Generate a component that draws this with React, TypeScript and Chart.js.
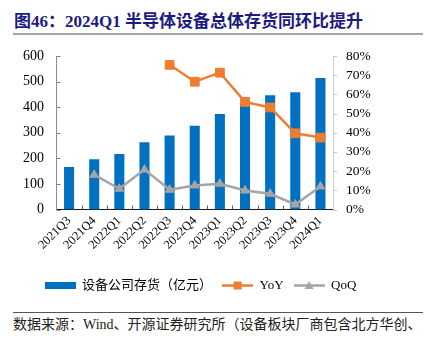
import React, { useEffect, useRef } from "react";
import { Chart, registerables } from "chart.js";

Chart.register(...registerables);

const categories = ["2021Q3", "2021Q4", "2022Q1", "2022Q2", "2022Q3", "2022Q4", "2023Q1", "2023Q2", "2023Q3", "2023Q4", "2024Q1"];
const inventory = [166, 196, 217, 263, 289, 327, 373, 414, 447, 458, 514];
const yoy = [null, null, null, null, 75.4, 66.6, 71.3, 56.1, 53.2, 39.7, 37.5];
const qoq = [null, 18.1, 10.8, 20.8, 10.3, 12.5, 13.4, 9.9, 8.2, 2.6, 12.0];
const leftTicks = [0, 100, 200, 300, 400, 500, 600];
const rightTicks = [0, 10, 20, 30, 40, 50, 60, 70, 80];

const BLUE = "#0070C0";
const ORANGE = "#ED7D31";
const GRAY = "#A5A5A5";
const SERIF = "'Liberation Serif', 'Times New Roman', serif";
const MIXED = "'Liberation Serif', 'Noto Sans CJK SC', serif";

function makeBoxIcon(): HTMLCanvasElement {
  const c = document.createElement("canvas");
  c.width = 31;
  c.height = 7;
  const g = c.getContext("2d")!;
  g.fillStyle = BLUE;
  g.fillRect(0, 0, 31, 7);
  return c;
}

function makeLineIcon(color: string, marker: "rect" | "tri"): HTMLCanvasElement {
  const c = document.createElement("canvas");
  c.width = 31;
  c.height = 13;
  const g = c.getContext("2d")!;
  g.strokeStyle = color;
  g.lineWidth = 2.5;
  g.beginPath();
  g.moveTo(0, 6.5);
  g.lineTo(31, 6.5);
  g.stroke();
  g.fillStyle = color;
  if (marker === "rect") {
    g.fillRect(11.5, 2.5, 8, 8);
  } else {
    g.beginPath();
    g.moveTo(15.5, 2);
    g.lineTo(20, 10);
    g.lineTo(11, 10);
    g.closePath();
    g.fill();
  }
  return c;
}

const tickPlugin = {
  id: "customTicks",
  afterDatasetsDraw(chart: any) {
    const { ctx, chartArea } = chart;
    const { left, right, bottom } = chartArea;
    const y = chart.scales.y;
    const y1 = chart.scales.y1;
    const x = chart.scales.x;
    ctx.save();
    ctx.lineWidth = 1;
    ctx.strokeStyle = "#808080";
    leftTicks.forEach((v) => {
      const py = Math.round(y.getPixelForValue(v)) + 0.5;
      ctx.beginPath();
      ctx.moveTo(left, py);
      ctx.lineTo(left + 4, py);
      ctx.stroke();
    });
    ctx.strokeStyle = "#c8c8c8";
    rightTicks.forEach((v) => {
      const py = Math.round(y1.getPixelForValue(v)) + 0.5;
      ctx.beginPath();
      ctx.moveTo(right, py);
      ctx.lineTo(right + 4, py);
      ctx.stroke();
    });
    ctx.strokeStyle = "#595959";
    for (let i = 1; i < categories.length; i++) {
      const px = Math.round((x.getPixelForValue(i - 1) + x.getPixelForValue(i)) / 2) + 0.5;
      ctx.beginPath();
      ctx.moveTo(px, bottom);
      ctx.lineTo(px, bottom - 4);
      ctx.stroke();
    }
    ctx.restore();
  },
};

export default function App() {
  const ref = useRef<HTMLCanvasElement | null>(null);

  useEffect(() => {
    document.body.style.margin = "0";
    const boxIcon = makeBoxIcon();
    const yoyIcon = makeLineIcon(ORANGE, "rect");
    const qoqIcon = makeLineIcon(GRAY, "tri");
    const chart = new Chart(ref.current!, {
      type: "bar",
      data: {
        labels: categories,
        datasets: [
          {
            type: "bar",
            label: "设备公司存货（亿元）",
            data: inventory,
            backgroundColor: BLUE,
            yAxisID: "y",
            barPercentage: 0.4,
            categoryPercentage: 1,
            order: 2,
          },
          {
            type: "line",
            label: "YoY",
            data: yoy as any,
            borderColor: ORANGE,
            backgroundColor: ORANGE,
            borderWidth: 2.5,
            pointStyle: "rect",
            pointRadius: 6.2,
            pointBorderWidth: 1,
            pointBackgroundColor: ORANGE,
            pointBorderColor: ORANGE,
            yAxisID: "y1",
            order: 1,
          },
          {
            type: "line",
            label: "QoQ",
            data: qoq as any,
            borderColor: GRAY,
            backgroundColor: GRAY,
            borderWidth: 2.5,
            pointStyle: "triangle",
            pointRadius: 5,
            pointBorderWidth: 1,
            pointBackgroundColor: GRAY,
            pointBorderColor: GRAY,
            yAxisID: "y1",
            order: 1,
          },
        ],
      },
      options: {
        animation: false,
        responsive: false,
        maintainAspectRatio: false,
        layout: { padding: { top: 56, left: 0, right: 30, bottom: 0 } },
        plugins: {
          tooltip: { enabled: false },
          legend: {
            position: "bottom",
            labels: {
              usePointStyle: true,
              pointStyleWidth: 31,
              padding: 10,
              color: "#000",
              font: { family: MIXED, size: 13 },
              generateLabels: (ch: any) => {
                const icons = [boxIcon, yoyIcon, qoqIcon];
                return ch.data.datasets.map((ds: any, i: number) => ({
                  text: ds.label,
                  fillStyle: "transparent",
                  strokeStyle: "transparent",
                  lineWidth: 0,
                  pointStyle: icons[i],
                  hidden: false,
                  datasetIndex: i,
                  fontColor: "#000",
                }));
              },
            },
          },
        },
        scales: {
          x: {
            grid: { display: false, drawTicks: false },
            border: { display: true, color: "#1a1a1a", width: 1 },
            ticks: {
              autoSkip: false,
              minRotation: 45,
              maxRotation: 45,
              padding: 4,
              color: "#000",
              font: { family: SERIF, size: 12.5 },
            },
            afterFit: (s: any) => {
              s.height = 59.5;
            },
          },
          y: {
            position: "left",
            min: 0,
            max: 600,
            grid: { display: false, drawTicks: false },
            border: { display: true, color: "#8c8c8c", width: 1 },
            ticks: {
              stepSize: 100,
              autoSkip: false,
              padding: 12.5,
              color: "#000",
              font: { family: SERIF, size: 14 },
            },
            afterFit: (s: any) => {
              s.width = 56.5;
            },
          },
          y1: {
            position: "right",
            min: 0,
            max: 80,
            grid: { display: false, drawTicks: false },
            border: { display: true, color: "#d0d0d0", width: 1 },
            ticks: {
              stepSize: 10,
              autoSkip: false,
              padding: 13,
              color: "#000",
              font: { family: SERIF, size: 13.5 },
              callback: (v: any) => v + "%",
            },
            afterFit: (s: any) => {
              s.width = 68;
            },
          },
        },
      },
      plugins: [tickPlugin],
    });
    return () => chart.destroy();
  }, []);

  return (
    <div style={{ position: "relative", width: 431, height: 343, background: "#fff", overflow: "hidden" }}>
      <div
        style={{
          position: "absolute",
          left: 14,
          top: 12,
          fontFamily: MIXED,
          fontWeight: "bold",
          fontSize: 17,
          lineHeight: "20px",
          color: "#1c1c80",
          whiteSpace: "nowrap",
        }}
      >
        图46：2024Q1 半导体设备总体存货同环比提升
      </div>
      <div style={{ position: "absolute", left: 13, top: 33, width: 410, height: 2, background: "#a6a6a6" }} />
      <canvas ref={ref} width={431} height={302} style={{ position: "absolute", left: 0, top: 0, width: 431, height: 302 }} />
      <div style={{ position: "absolute", left: 13, top: 312, width: 410, height: 1, background: "#555" }} />
      <div
        style={{
          position: "absolute",
          left: 13,
          top: 316,
          fontFamily: MIXED,
          fontSize: 14,
          lineHeight: "17px",
          color: "#222",
          whiteSpace: "nowrap",
          width: 412,
          overflow: "hidden",
        }}
      >
        数据来源：Wind、开源证券研究所（设备板块厂商包含北方华创、
      </div>
    </div>
  );
}
